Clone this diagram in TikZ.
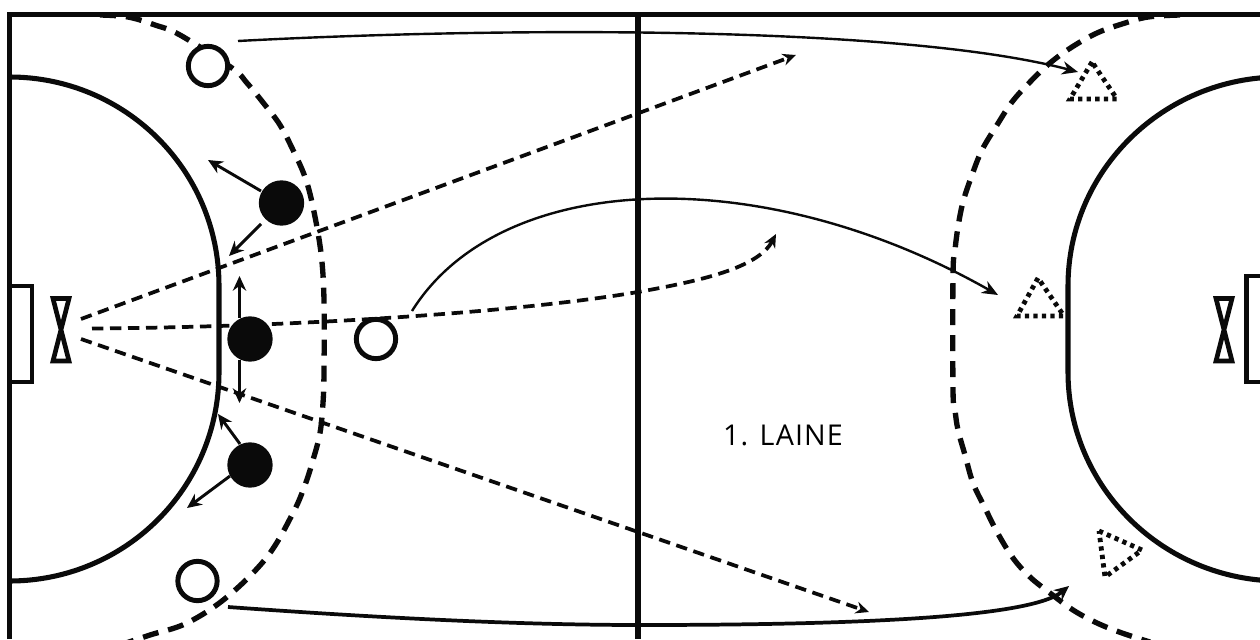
\documentclass[tikz,border=0pt]{standalone}
\usepackage{fontspec}
\setmainfont{Open Sans}
\usetikzlibrary{arrows.meta}
\definecolor{ink}{HTML}{0A0A0A}
\tikzset{
  x=0.75pt,y=-0.75pt,
  court/.style={draw=ink,line width=3.8pt},
  arc6/.style={draw=ink,line width=4pt,dash pattern=on 12pt off 7.5pt},
  goalline/.style={draw=ink,line width=3.2pt},
  keeper/.style={draw=ink,line width=3.5pt,fill=white},
  opp/.style={circle,draw=ink,line width=3.7pt,fill=white,minimum size=29.5pt,inner sep=0pt},
  def/.style={circle,fill=ink,minimum size=34pt,inner sep=0pt},
  tri/.style={draw=ink,line width=3.6pt,dash pattern=on 3.2pt off 3.2pt},
  move/.style={draw=ink,line width=2.2pt,-{Stealth[length=11pt,width=10pt]}},
  run/.style={draw=ink,line width=1.8pt,-{Stealth[length=12pt,width=10pt]}},
  pass/.style={draw=ink,line width=2.8pt,dash pattern=on 8.5pt off 5pt,-{Stealth[length=10pt,width=9pt]}},
  lab/.style={inner sep=0pt,font=\fontsize{21.5pt}{26pt}\selectfont}
}
\begin{document}
\begin{tikzpicture}
\useasboundingbox (0,0) rectangle (1260,639);
\begin{scope}
\clip (0,0) rectangle (1260,639);
% court
\draw[court] (9.5,639) -- (9.5,14.5) -- (1260,14.5);
\draw[court] (638,14.5) -- (638,639);
% goal areas
\draw[court] (9.5,77) .. controls (125,77) and (219,170) .. (219,286) -- (219,372) .. controls (219,488) and (125,581) .. (9.5,581);
\draw[court] (1280,77) .. controls (1164,77) and (1068,170) .. (1068,286) -- (1068,372) .. controls (1068,488) and (1164,581) .. (1280,581);
% free throw lines
\draw[arc6] plot[smooth,tension=0.6] coordinates {(100,15) (128,17) (155,25) (180,35) (232,68) (247,83) (265,105) (280,125) (293,150) (305,177) (313,207) (321,253) (324,300) (324,372) (323,403) (320,433) (313,460) (305,485) (293,513) (267,557) (227,597) (187,623) (150,635) (120,645)};
\draw[arc6] plot[smooth,tension=0.6] coordinates {(1180,15) (1148,17) (1122,24) (1097,33) (1072,47) (1050,63) (1030,82) (1012,102) (997,125) (982,150) (972,175) (963,202) (958,227) (955,250) (953,275) (953,390) (955,410) (958,430) (965,455) (973,483) (985,508) (997,532) (1013,558) (1030,577) (1050,593) (1073,610) (1097,623) (1122,633) (1150,642)};
% goals
\draw[goalline] (10,286) -- (32,286) -- (32,382) -- (10,382);
\draw[goalline] (1262,276) -- (1246.5,276) -- (1246.5,382) -- (1262,382);
\end{scope}
% keepers
\draw[keeper] (53,298.5) -- (69,298.5) -- (53,361) -- (69,361) -- cycle;
\draw[keeper] (1216,298.5) -- (1232,298.5) -- (1216,361) -- (1232,361) -- cycle;
% players
\node[def] (d1) at (281.5,203) {};
\node[def] (d2) at (250,339) {};
\node[def] (d3) at (250,465) {};
\node[opp] (o1) at (208,66) {};
\node[opp] (o2) at (197.5,581) {};
\node[opp] (o3) at (376,339) {};
% free ends
\coordinate (gk1) at (81,319);
\coordinate (gk2) at (92,328.5);
\coordinate (gk3) at (81,339);
\coordinate (p1) at (796,55);
\coordinate (p2) at (776,234);
\coordinate (p3) at (869,612);
\coordinate (m1) at (208,160);
\coordinate (m2) at (229,256);
\coordinate (m3) at (239.5,276);
\coordinate (m4) at (239.5,403);
\coordinate (m5) at (218,414);
\coordinate (m6) at (187,508);
\coordinate (s1) at (238,41);
\coordinate (e1) at (1078,72);
\coordinate (s2) at (412,311);
\coordinate (e2) at (998,295);
\coordinate (s3) at (228,607);
\coordinate (e3) at (1069,586);
% passes
\draw[pass] (gk1) -- (p1);
\draw[pass] (gk3) -- (p3);
\draw[pass] (gk2) .. controls (300,327) and (520,312) .. (638,292) .. controls (700,281) and (758,268) .. (p2);
% defender moves
\draw[move] (261,191) -- (m1);
\draw[move] (261,224) -- (m2);
\draw[move] (239.5,318) -- (m3);
\draw[move] (239.5,360) -- (m4);
\draw[move] (240,444) -- (m5);
\draw[move] (230,476) -- (m6);
% runs
\draw[run] (s1) .. controls (500,27) and (900,25) .. (e1);
\draw[run] (s2) .. controls (500,170) and (760,160) .. (e2);
\draw[move,line width=2.8pt] (s3) .. controls (380,618) and (520,625) .. (640,625) .. controls (850,625) and (1030,618) .. (e3);
% triangles
\draw[tri] (1092,62) -- (1070,99) -- (1117,99) -- cycle;
\draw[tri] (1038,278) -- (1017,316) -- (1064,316) -- cycle;
\draw[tri] (1099,531) -- (1142,550) -- (1105,577) -- cycle;
% label
\node[lab] (t) at (783,435) {\addfontfeature{LetterSpace=4}1. LAINE};
\end{tikzpicture}
\end{document}
